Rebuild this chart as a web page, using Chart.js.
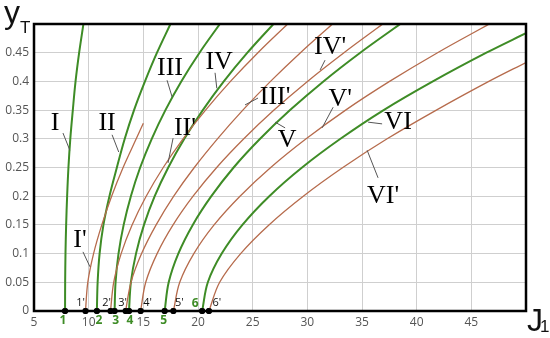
<!DOCTYPE html>
<html>
<head>
<meta charset="utf-8">
<script src="https://cdn.jsdelivr.net/npm/chart.js@4.4.0/dist/chart.umd.min.js"></script>
<style>
  html, body { margin: 0; padding: 0; background: #fff; }
  #wrap { width: 550px; height: 338px; }
</style>
</head>
<body>
<div id="wrap"><canvas id="yChart" width="550" height="338"></canvas></div>
<script>
// y levels where the curves were read (shared by most curves)
const yLevels = [0, 0.05, 0.1, 0.15, 0.2, 0.25, 0.3, 0.35, 0.4, 0.45, 0.5];

// green curves I..VI : J1 values at each y level
const jGreen1 = [7.84, 7.85, 7.88, 7.94, 8.03, 8.15, 8.32, 8.55, 8.8, 9.13, 9.52];
const jGreen2 = [10.75, 10.82, 11.0, 11.35, 11.9, 12.58, 13.3, 14.15, 15.15, 16.25, 17.48];
const jGreen3 = [12.37, 12.46, 12.73, 13.2, 13.86, 14.71, 15.77, 17.02, 18.47, 20.14, 22.0];
const jGreen4 = [13.69, 13.86, 14.33, 15.06, 16.04, 17.28, 18.75, 20.44, 22.36, 24.52, 26.9];
const jGreen5 = [16.95, 17.32, 18.2, 19.52, 21.22, 23.26, 25.68, 28.42, 31.47, 34.84, 38.5];
const jGreen6 = [20.38, 20.9, 22.17, 24.06, 26.52, 29.52, 33.03, 36.98, 41.48, 46.38, 50.0];
const yGreen6 = [0, 0.05, 0.1, 0.15, 0.2, 0.25, 0.3, 0.35, 0.4, 0.45, 0.484];

// red curves I'..VI'
const jRed1 = [9.71, 9.92, 10.45, 11.2, 12.1, 13.15, 14.35, 15.0];
const yRed1 = [0, 0.05, 0.1, 0.15, 0.2, 0.25, 0.3, 0.327];
const jRed2 = [12.0, 12.29, 12.97, 13.97, 15.26, 16.82, 18.63, 20.69, 22.97, 25.48, 28.2];
const jRed3 = [13.38, 13.87, 14.84, 16.17, 17.78, 19.66, 21.78, 24.1, 26.63, 29.37, 32.3];
const jRed4 = [14.75, 15.22, 16.26, 17.72, 19.55, 21.71, 24.19, 26.95, 30.01, 33.35, 36.9];
const jRed5 = [17.75, 18.33, 19.62, 21.47, 23.84, 26.65, 29.89, 33.5, 37.52, 41.91, 46.65];
const jRed6 = [21.0, 21.98, 23.9, 26.49, 29.63, 33.25, 37.3, 41.8, 46.6, 50.0];
const yRed6 = [0, 0.05, 0.1, 0.15, 0.2, 0.25, 0.3, 0.35, 0.4, 0.433];

// tick values
const xTicks = [5, 10, 15, 20, 25, 30, 35, 40, 45, 50];
const yTicks = [0, 0.05, 0.1, 0.15, 0.2, 0.25, 0.3, 0.35, 0.4, 0.45, 0.5];

const GREEN = '#3e8c26';
const RED = '#b66b4c';

function toPoints(js, ys) {
    return js.map((j, i) => ({ x: j, y: ys[i] }));
}

const greenCurves = [
    toPoints(jGreen1, yLevels), toPoints(jGreen2, yLevels), toPoints(jGreen3, yLevels),
    toPoints(jGreen4, yLevels), toPoints(jGreen5, yLevels), toPoints(jGreen6, yGreen6)
];
const redCurves = [
    toPoints(jRed1, yRed1), toPoints(jRed2, yLevels), toPoints(jRed3, yLevels),
    toPoints(jRed4, yLevels), toPoints(jRed5, yLevels), toPoints(jRed6, yRed6)
];

// starting points on the J1 axis (first value of every curve)
const startGreen = greenCurves.map(c => c[0].x);
const startRed = redCurves.map(c => c[0].x);

// roman labels : text, label position and leader line (data units)
const curveLabels = [
    { t: 'I',    x: 6.92,  y: 0.328, l: [7.65, 0.31, 8.28, 0.28] },
    { t: 'II',   x: 11.68, y: 0.328, l: [12.14, 0.307, 12.75, 0.277] },
    { t: 'III',  x: 17.44, y: 0.423, l: [17.17, 0.402, 17.63, 0.373] },
    { t: 'IV',   x: 21.93, y: 0.434, l: [21.56, 0.415, 21.72, 0.388] },
    { t: "I'",   x: 9.21,  y: 0.124, l: [9.48, 0.103, 10.12, 0.077] },
    { t: "II'",  x: 18.8,  y: 0.319, l: [17.72, 0.301, 17.26, 0.258] },
    { t: "III'", x: 27.05, y: 0.373, l: [25.49, 0.371, 24.3, 0.359] },
    { t: "IV'",  x: 32.08, y: 0.46,  l: [31.62, 0.437, 31.17, 0.42] },
    { t: 'V',    x: 28.15, y: 0.298, l: [27.97, 0.319, 27.05, 0.329] },
    { t: "V'",   x: 33.0,  y: 0.369, l: [32.36, 0.355, 31.35, 0.319] },
    { t: 'VI',   x: 38.3,  y: 0.329, l: [36.84, 0.326, 35.56, 0.329] },
    { t: "VI'",  x: 36.93, y: 0.2,   l: [36.47, 0.232, 35.47, 0.28] }
];

// point names under/over the axis: horizontal offset in px, below or above axis
const greenNames = [
    { t: '1', dx: -2, below: true }, { t: '2', dx: 2, below: true },
    { t: '3', dx: 1, below: true },  { t: '4', dx: 1, below: true },
    { t: '5', dx: -1, below: true }, { t: '6', dx: -7, below: false }
];
const redNames = [
    { t: "1'", dx: -5 }, { t: "2'", dx: -4 }, { t: "3'", dx: -3 },
    { t: "4'", dx: 7 },  { t: "5'", dx: 6 },  { t: "6'", dx: 8 }
];

const datasets = [];
redCurves.forEach(c => datasets.push({
    data: c, showLine: true, borderColor: RED, borderWidth: 1.3,
    pointRadius: 0, tension: 0.35, fill: false
}));
greenCurves.forEach(c => datasets.push({
    data: c, showLine: true, borderColor: GREEN, borderWidth: 2,
    pointRadius: 0, tension: 0.35, fill: false
}));
// dots on the axis
datasets.push({
    data: startGreen.concat(startRed).map(j => ({ x: j, y: 0 })),
    showLine: false, pointRadius: 3, pointBackgroundColor: '#000',
    pointBorderWidth: 0, clip: false
});

const annotations = {
    id: 'annotations',
    afterDatasetsDraw(chart) {
        const ctx = chart.ctx;
        const xs = chart.scales.x, ys = chart.scales.y;
        const a = chart.chartArea;
        ctx.save();

        // frame
        ctx.strokeStyle = '#000';
        ctx.lineWidth = 2.5;
        ctx.strokeRect(a.left, a.top, a.right - a.left, a.bottom - a.top);

        // dots again on top of the frame
        ctx.fillStyle = '#000';
        startGreen.concat(startRed).forEach(j => {
            ctx.beginPath();
            ctx.arc(xs.getPixelForValue(j), ys.getPixelForValue(0), 3, 0, Math.PI * 2);
            ctx.fill();
        });

        // leader lines and roman labels
        ctx.strokeStyle = '#555';
        ctx.lineWidth = 1;
        ctx.font = '26px "Liberation Serif", "DejaVu Serif", serif';
        ctx.textAlign = 'center';
        ctx.textBaseline = 'middle';
        ctx.fillStyle = '#000';
        curveLabels.forEach(lb => {
            ctx.beginPath();
            ctx.moveTo(xs.getPixelForValue(lb.l[0]), ys.getPixelForValue(lb.l[1]));
            ctx.lineTo(xs.getPixelForValue(lb.l[2]), ys.getPixelForValue(lb.l[3]));
            ctx.stroke();
            ctx.fillText(lb.t, xs.getPixelForValue(lb.x), ys.getPixelForValue(lb.y));
        });

        // point names
        const y0 = ys.getPixelForValue(0);
        ctx.font = 'bold 12px "Open Sans", "DejaVu Sans", sans-serif';
        ctx.fillStyle = GREEN;
        greenNames.forEach((n, i) => {
            const px = xs.getPixelForValue(startGreen[i]) + n.dx;
            ctx.fillText(n.t, px, n.below ? y0 + 10 : y0 - 7);
        });
        ctx.font = '11px "Open Sans", "DejaVu Sans", sans-serif';
        ctx.fillStyle = '#111';
        redNames.forEach((n, i) => {
            ctx.fillText(n.t, xs.getPixelForValue(startRed[i]) + n.dx, y0 - 8);
        });

        // axis titles
        ctx.textAlign = 'left';
        ctx.textBaseline = 'alphabetic';
        ctx.font = '32px "Liberation Sans", "DejaVu Sans", sans-serif';
        ctx.fillText('y', 4, 23);
        ctx.fillText('J', a.right + 1, a.bottom + 20);
        ctx.font = '17px "Liberation Sans", "DejaVu Sans", sans-serif';
        ctx.fillText('T', 20, 33);
        ctx.fillText('1', a.right + 14, a.bottom + 21);
        ctx.restore();
    }
};

new Chart(document.getElementById('yChart'), {
    type: 'scatter',
    data: { datasets: datasets },
    plugins: [annotations],
    options: {
        responsive: false,
        devicePixelRatio: 1,
        animation: false,
        layout: { padding: { top: 24, right: 24, left: 0, bottom: 0 } },
        plugins: { legend: { display: false }, tooltip: { enabled: false } },
        scales: {
            x: {
                type: 'linear', min: 5, max: 50,
                afterFit: s => { s.height = 27; },
                afterBuildTicks: s => { s.ticks = xTicks.map(v => ({ value: v })); },
                grid: { color: '#cfcfcf', lineWidth: 1, drawTicks: false },
                border: { display: false },
                ticks: {
                    padding: 4, color: '#555',
                    font: { family: '"Open Sans", "DejaVu Sans", sans-serif', size: 12 },
                    maxRotation: 0, autoSkip: false,
                    callback: v => (v === 50 ? '' : v)
                }
            },
            y: {
                type: 'linear', min: 0, max: 0.5,
                afterFit: s => { s.width = 34; },
                afterBuildTicks: s => { s.ticks = yTicks.map(v => ({ value: v })); },
                grid: { color: '#cfcfcf', lineWidth: 1, drawTicks: false },
                border: { display: false },
                ticks: {
                    padding: 5, color: '#555',
                    font: { family: '"Open Sans", "DejaVu Sans", sans-serif', size: 12 },
                    autoSkip: false,
                    callback: v => (v === 0.5 ? '' : String(+v.toFixed(2)))
                }
            }
        }
    }
});
</script>
</body>
</html>
